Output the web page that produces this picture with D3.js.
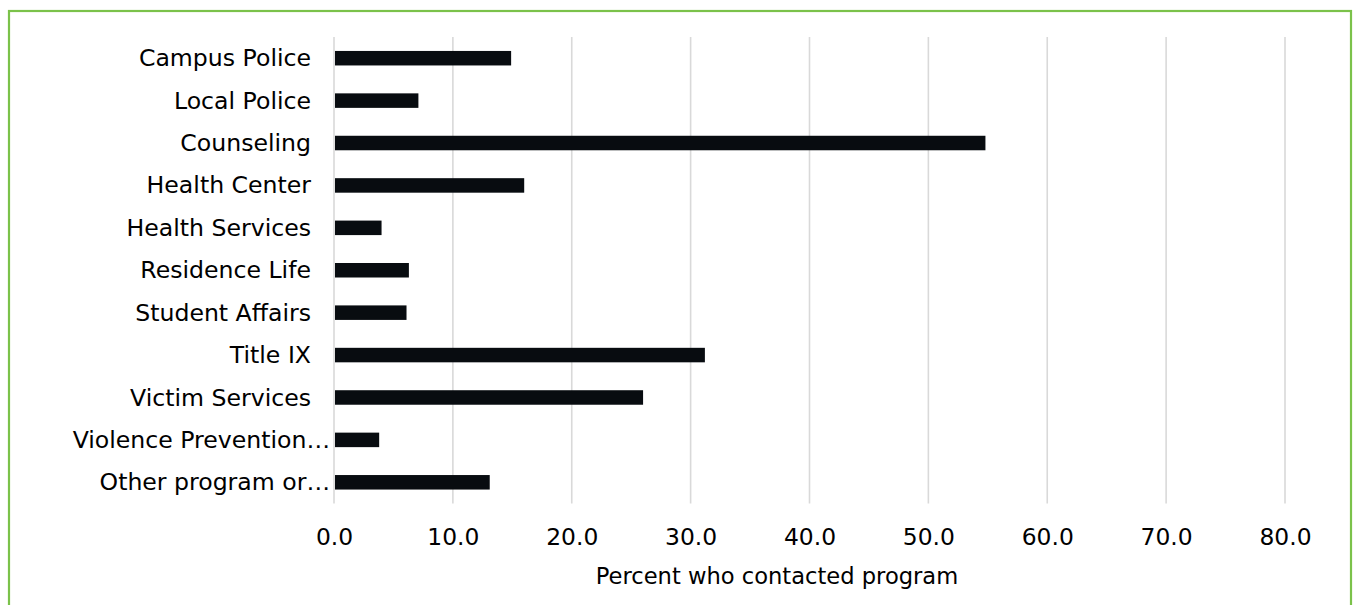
<!DOCTYPE html>
<html>
<head>
<meta charset="utf-8">
<script src="https://cdn.jsdelivr.net/npm/d3@7"></script>
<style>
  html, body { margin: 0; padding: 0; background: #ffffff; }
  svg { display: block; }
  text { font-family: "DejaVu Sans", Verdana, sans-serif; fill: #000000; }
</style>
</head>
<body>
<svg id="chart" width="1353" height="605"></svg>
<script>
// Programs students contacted, top to bottom
const categories = [
  "Campus Police",
  "Local Police",
  "Counseling",
  "Health Center",
  "Health Services",
  "Residence Life",
  "Student Affairs",
  "Title IX",
  "Victim Services",
  "Violence Prevention…",
  "Other program or…"
];
// Percent who contacted each program
const percents = [14.9, 7.1, 54.8, 16.0, 4.0, 6.3, 6.1, 31.2, 26.0, 3.8, 13.1];
const tickValues = [0, 10, 20, 30, 40, 50, 60, 70, 80];
const xTitle = "Percent who contacted program";

const rows = categories.map((c, i) => ({ label: c, value: percents[i] }));

const svg = d3.select("#chart");
const plot = { left: 334, right: 1285, top: 37, bottom: 503.5 };

// outer frame
svg.append("rect")
  .attr("x", 9).attr("y", 11)
  .attr("width", 1342).attr("height", 700)
  .attr("fill", "none")
  .attr("stroke", "#7bc24a")
  .attr("stroke-width", 2.2);

const x = d3.scaleLinear().domain([0, 80]).range([plot.left, plot.right]);
const y = d3.scaleBand()
  .domain(categories)
  .range([plot.top, plot.bottom])
  .paddingInner(0.658)
  .paddingOuter(0.329);

// vertical gridlines
svg.append("g")
  .selectAll("line")
  .data(tickValues)
  .join("line")
  .attr("x1", d => x(d)).attr("x2", d => x(d))
  .attr("y1", plot.top).attr("y2", plot.bottom)
  .attr("stroke", "#d9d9d9")
  .attr("stroke-width", 1.6);

// bars
svg.append("g")
  .selectAll("rect")
  .data(rows)
  .join("rect")
  .attr("x", x(0) + 1)
  .attr("y", d => y(d.label))
  .attr("width", d => x(d.value) - x(0) - 1)
  .attr("height", y.bandwidth())
  .attr("fill", "#080c10");

// x axis tick labels
const xAxis = d3.axisBottom(x)
  .tickValues(tickValues)
  .tickFormat(d3.format(".1f"))
  .tickSize(0)
  .tickPadding(0);
const gx = svg.append("g")
  .attr("transform", `translate(0,${plot.bottom})`)
  .call(xAxis);
gx.select(".domain").remove();
gx.selectAll("text")
  .attr("font-size", 23.4)
  .attr("font-family", null)
  .attr("y", 41.5)
  .attr("dy", null);

// y axis category labels
const yAxis = d3.axisLeft(y).tickSize(0).tickPadding(0);
const gy = svg.append("g")
  .attr("transform", `translate(${plot.left},0)`)
  .call(yAxis);
gy.select(".domain").remove();
gy.selectAll("text")
  .attr("font-size", 23.6)
  .attr("font-family", null)
  .attr("x", d => d.endsWith("…") ? -4 : -23)
  .attr("dy", "0.34em");

// axis title
svg.append("text")
  .attr("x", 777)
  .attr("y", 584)
  .attr("text-anchor", "middle")
  .attr("font-size", 22.6)
  .text(xTitle);
</script>
</body>
</html>
